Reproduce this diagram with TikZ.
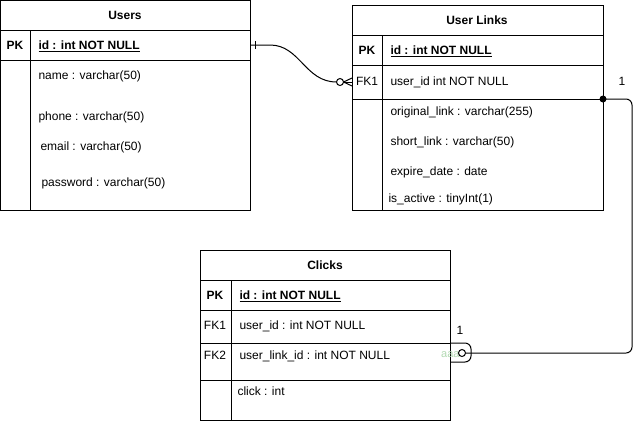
\documentclass[tikz,border=0pt]{standalone}
\usepackage{fontspec}
\setmainfont{Liberation Sans}
\begin{document}
\begin{tikzpicture}[x=1pt,y=-1pt,line width=1pt,
  box/.style={draw,anchor=north west,inner sep=0pt,outer sep=0pt},
  txt/.style={anchor=base west,inner sep=0pt,font=\fontsize{12}{14}\selectfont},
  ctxt/.style={anchor=base,inner sep=0pt,font=\fontsize{12}{14}\selectfont},
  btxt/.style={anchor=base,inner sep=0pt,font=\fontsize{12}{14}\selectfont\bfseries},
  bltxt/.style={anchor=base west,inner sep=0pt,font=\fontsize{12}{14}\selectfont\bfseries}]
\useasboundingbox (0,0) rectangle (642,421);
% ---------- Users ----------
\node[box,minimum width=249.5pt,minimum height=29.5pt] (uh) at (0.5,0.5) {};
\node[box,minimum width=249.5pt,minimum height=30pt] (upk) at (0.5,30) {};
\node[box,minimum width=249.5pt,minimum height=150pt] (urest) at (0.5,60) {};
\draw ([xshift=29.5pt]upk.north west) -- ([xshift=29.5pt]urest.south west);
\node[btxt] (ut) at (125,19.3) {Users};
\node[btxt] (upkl) at (15,49.3) {PK};
\node[bltxt] (uid) at (38,49.3) {\underline{id : int NOT NULL}};
\node[txt] (uname) at (38,79.3) {name : varchar(50)};
\node[txt] (uphone) at (38,120.3) {phone : varchar(50)};
\node[txt] (uemail) at (40,150.3) {email : varchar(50)};
\node[txt] (upass) at (41,186.3) {password : varchar(50)};
% ---------- User Links ----------
\node[box,minimum width=251pt,minimum height=30pt] (lh) at (352,5) {};
\node[box,minimum width=251pt,minimum height=30pt] (lpk) at (352,35) {};
\node[box,minimum width=251pt,minimum height=34pt] (lfk) at (352,65) {};
\node[box,minimum width=251pt,minimum height=111pt] (lrest) at (352,99) {};
\draw ([xshift=30pt]lpk.north west) -- ([xshift=30pt]lrest.south west);
\node[btxt] (lt) at (477,24.3) {User Links};
\node[btxt] (lpkl) at (367,54.3) {PK};
\node[bltxt] (lid) at (390,54.3) {\underline{id : int NOT NULL}};
\node[ctxt] (lfkl) at (367,85.3) {FK1};
\node[txt] (luid) at (390,85.3) {user\_id int NOT NULL};
\node[txt] (lorig) at (390,115.3) {original\_link : varchar(255)};
\node[txt] (lshort) at (390,145.3) {short\_link : varchar(50)};
\node[txt] (lexp) at (390,175.3) {expire\_date : date};
\node[txt] (lact) at (388,202.3) {is\_active : tinyInt(1)};
% ---------- Clicks ----------
\node[box,minimum width=250pt,minimum height=30pt] (ch) at (200,250) {};
\node[box,minimum width=250pt,minimum height=30pt] (cpk) at (200,280) {};
\node[box,minimum width=250pt,minimum height=33pt] (cfk1) at (200,310) {};
\node[box,minimum width=250pt,minimum height=37pt] (cfk2) at (200,343) {};
\node[box,minimum width=250pt,minimum height=40pt] (crest) at (200,380) {};
\draw ([xshift=31pt]cpk.north west) -- ([xshift=31pt]crest.south west);
\node[btxt] (ct) at (325,269.3) {Clicks};
\node[btxt] (cpkl) at (215,299.3) {PK};
\node[bltxt] (cid) at (239,299.3) {\underline{id : int NOT NULL}};
\node[ctxt] (cfk1l) at (215,329.3) {FK1};
\node[txt] (cuid) at (239,329.3) {user\_id : int NOT NULL};
\node[ctxt] (cfk2l) at (215,359.3) {FK2};
\node[txt] (culid) at (239,359.3) {user\_link\_id : int NOT NULL};
\node[txt] (cclick) at (237,395.3) {click : int};
% ---------- connector Users -> User Links ----------
\coordinate (c1s) at (upk.east);
\coordinate (c1e) at (lfk.west);
\draw (c1s) -- ++(20,0) .. controls (300,45) and (305,82) .. (336.5,82);
\draw ([xshift=5pt]c1s) ++(0,-4) -- ++(0,8);
\draw (340,82) circle (3.5);
\draw (343.5,82) -- (c1e);
\draw (343.5,82) -- ([yshift=4pt]c1e);
\draw (343.5,82) -- ([yshift=-4pt]c1e);
\node[ctxt] (one1) at (622,85.3) {1};
% ---------- connector User Links -> Clicks ----------
\coordinate (dot) at (lrest.north east);
\fill (dot) circle (3.5);
\node[anchor=base east,inner sep=0pt,font=\fontsize{11}{13}\selectfont,text=green!50!black!30] (aaa) at (460,357) {aaa};
\draw[rounded corners=6pt] (dot) -- (632,99) -- (632,353) -- (465.5,353);
\draw (462,353) circle (3.5);
\draw[rounded corners=6pt] (cfk2.north east) -- (471,343) -- (471,362) -- (cfk2.east |- 0,362);
\node[ctxt] (one2) at (460,334.3) {1};
\end{tikzpicture}
\end{document}
